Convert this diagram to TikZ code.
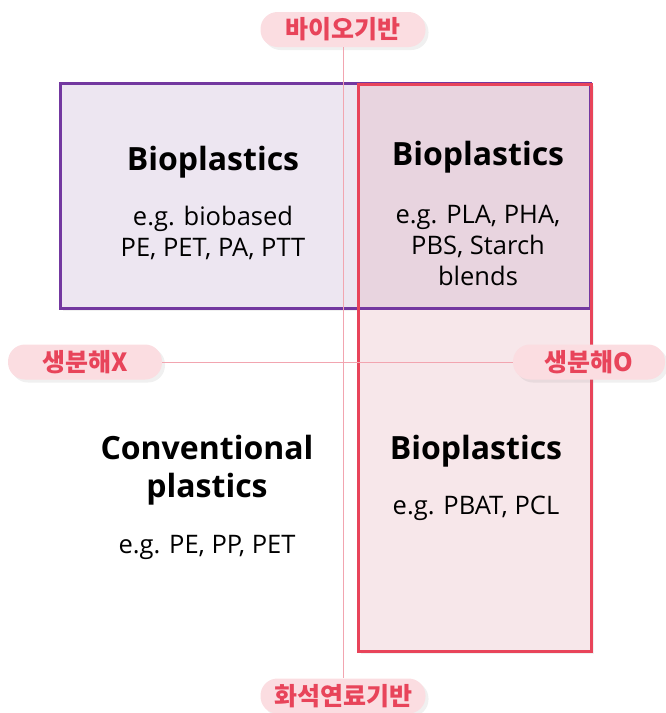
\documentclass[tikz,border=0pt]{standalone}
\usepackage{fontspec}
\setmainfont{Open Sans}
\newfontfamily\kofont{Noto Sans CJK KR}
\usetikzlibrary{shadows}

\definecolor{labelred}{HTML}{E8445A}
\definecolor{pillpink}{HTML}{FBDDE1}
\definecolor{axispink}{HTML}{F2A5B0}
\definecolor{bioviolet}{HTML}{7338A0}
\definecolor{violetfill}{HTML}{EDE6F1}
\definecolor{redfill}{HTML}{F7E7EA}
\definecolor{bothfill}{HTML}{E8D4DF}

\begin{document}
\begin{tikzpicture}[x=1pt,y=-1pt,
  pill/.style={fill=pillpink, rounded corners=17pt, minimum height=35pt,
    inner sep=0pt, text=labelred,
    font=\kofont\bfseries\fontsize{25}{25}\selectfont,
    drop shadow={shadow xshift=3pt, shadow yshift=-3pt, opacity=0.12}},
  title/.style={font=\bfseries\fontsize{32}{38}\selectfont, align=center},
  body/.style={font=\fontsize{25.5}{31}\selectfont, align=center}]

  \useasboundingbox (0,0) rectangle (665,713);

  % boxes
  \fill[violetfill, drop shadow={shadow xshift=3pt, shadow yshift=-3pt, opacity=0.12}]
    (60,83) rectangle (590,308);
  \fill[redfill, drop shadow={shadow xshift=3pt, shadow yshift=-3pt, opacity=0.12}]
    (358,83) rectangle (591,651);
  \fill[bothfill] (358,83) rectangle (590,308);
  \draw[bioviolet, line width=3pt] (60,83) rectangle (590,308);
  \draw[labelred, line width=3pt] (358,84) rectangle (591,651);

  % axis labels
  \node[pill, minimum width=165pt] (biobased) at (343,29.5) {바이오기반};
  \node[pill, minimum width=165pt] (fossil) at (343,696) {화석연료기반};
  \node[pill, minimum width=154pt] (nodegrade) at (85,362) {생분해X};
  \node[pill, minimum width=152pt] (degrade) at (589,362) {생분해O};

  % axes
  \draw[axispink, line width=1pt] (biobased) -- (fossil);
  \draw[axispink, line width=1pt] (nodegrade) -- (degrade);

  % quadrants
  \node[title] (bioA) at (213,162) {Bioplastics};
  \node[body] (egA) at (213,233) {e.g. biobased\\PE, PET, PA, PTT};
  \node[title] (bioB) at (478,157) {Bioplastics};
  \node[body] (egB) at (478,245) {e.g. PLA, PHA,\\PBS, Starch\\blends};
  \node[title] (conv) at (207,470) {Conventional\\plastics};
  \node[body] (egC) at (207,547) {e.g. PE, PP, PET};
  \node[title] (bioD) at (476,451) {Bioplastics};
  \node[body] (egD) at (476,508) {e.g. PBAT, PCL};
\end{tikzpicture}
\end{document}
